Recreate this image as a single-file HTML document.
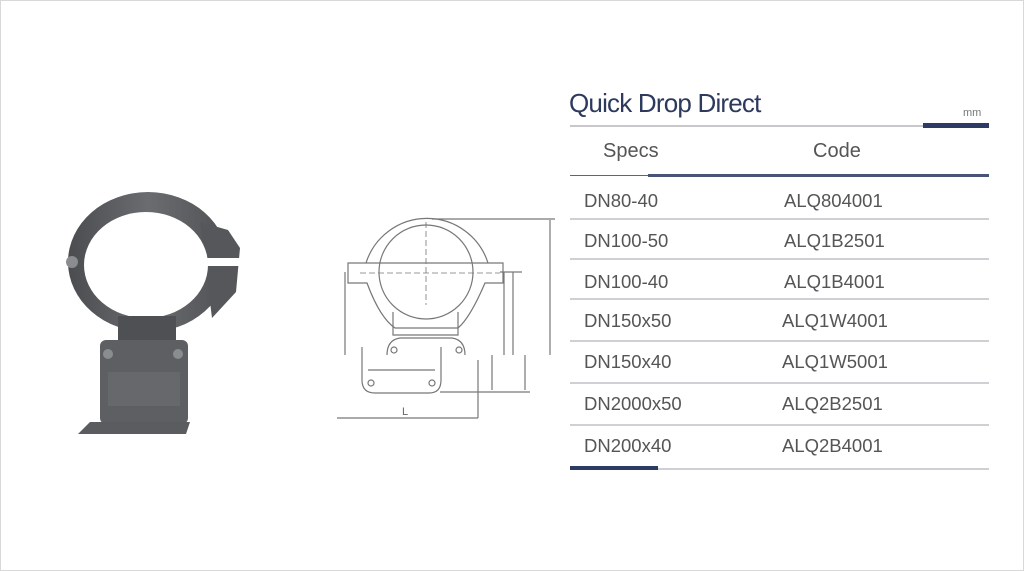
<!DOCTYPE html>
<html><head><meta charset="utf-8"><style>
html,body{margin:0;padding:0;background:#fff}
body{width:1024px;height:571px;position:relative;overflow:hidden;font-family:"Liberation Sans",sans-serif}
.frame{position:absolute;left:0;top:0;width:1022px;height:569px;border:1px solid #d8d8d8}
.t{position:absolute;color:#555;font-size:18.5px;line-height:20px;white-space:nowrap}
.ln{position:absolute;left:570px;width:419px;height:2px;background:#cfcfd4}
</style></head><body>
<div class="frame"></div>

<svg style="position:absolute;left:0;top:0" width="1024" height="571">
 <defs><linearGradient id="g" x1="0" x2="1"><stop offset="0" stop-color="#4a4c50"/><stop offset=".5" stop-color="#6a6c70"/><stop offset="1" stop-color="#505256"/></linearGradient></defs>
 <!-- photo -->
 <ellipse cx="148" cy="262" rx="80" ry="70" fill="url(#g)"/>
 <path d="M200 222 L228 230 L240 248 L236 292 L212 318 Z" fill="#55575b"/>
 <ellipse cx="146" cy="265" rx="62" ry="53" fill="#fff"/>
 <rect x="200" y="258" width="44" height="8" fill="#fff"/>
 <circle cx="72" cy="262" r="6" fill="#8a8c90"/>
 <rect x="118" y="316" width="58" height="26" fill="#4e5054"/>
 <rect x="100" y="340" width="88" height="84" rx="6" fill="#5d5f63"/>
 <rect x="108" y="372" width="72" height="34" fill="#66686c"/>
 <circle cx="108" cy="354" r="5" fill="#8a8c90"/><circle cx="178" cy="354" r="5" fill="#8a8c90"/>
 <path d="M78 434 L90 422 L190 422 L186 434 Z" fill="#5a5c60"/>
 <!-- drawing -->
 <g fill="none" stroke="#777" stroke-width="1.2">
  <path d="M366 263 A64 64 0 0 1 488 263"/>
  <path d="M348 263 L503 263 L503 283 L485 283 Q470 318 458 328 L395 328 Q380 318 367 283 L348 283 Z"/>
  <circle cx="426" cy="272" r="47"/>
  <path d="M393 312 L393 335 L458 335 L458 312"/>
  <path d="M387 355 Q387 340 400 338 L452 338 Q465 340 465 355"/>
  <circle cx="394" cy="350" r="3"/><circle cx="459" cy="350" r="3"/>
  <path d="M362 347 L362 380 Q362 393 375 393 L429 393 Q441 393 441 380 L441 347 M368 370 L435 370"/>
  <circle cx="371" cy="383" r="3"/><circle cx="432" cy="383" r="3"/>
  <path d="M345 272 L345 355 M504 272 L504 355 M513 272 L513 355 M550 220 L550 355"/>
  <path d="M426 222 L426 305 M360 273 L500 273" stroke-dasharray="6 3" stroke-width=".8"/>
  <path d="M432 219 L555 219 M500 272 L522 272 M492 355 L492 390 M525 355 L525 390 M440 392 L530 392 M478 360 L478 418 M337 418 L478 418"/>
 </g>
 <text x="402" y="415" font-size="11" fill="#666" font-family="Liberation Sans">L</text>
 <!-- table lines -->
 <rect x="570" y="125" width="353" height="2" fill="#c8c8cc"/>
 <rect x="923" y="123" width="66" height="5" fill="#2d3a64"/>
 <rect x="570" y="175" width="78" height="1" fill="#5a6484"/>
 <rect x="648" y="174" width="341" height="3" fill="#48537a"/>
 <rect x="570" y="466" width="88" height="4" fill="#2d3a64"/>
</svg>

<div class="t" style="left:569px;top:88px;font-size:26px;line-height:30px;color:#2d3a5e;letter-spacing:-0.8px">Quick Drop Direct</div>
<div class="t" style="left:963px;top:103px;font-size:11px;color:#777">mm</div>
<div class="t" style="left:603px;top:141px;font-size:20px">Specs</div>
<div class="t" style="left:813px;top:141px;font-size:20px">Code</div>

<div class="ln" style="top:218px"></div>
<div class="ln" style="top:258px"></div>
<div class="ln" style="top:298px"></div>
<div class="ln" style="top:340px"></div>
<div class="ln" style="top:382px"></div>
<div class="ln" style="top:424px"></div>
<div class="ln" style="top:468px;left:658px;width:331px"></div>

<div class="t" style="left:584px;top:191px">DN80-40</div><div class="t" style="left:784px;top:191px">ALQ804001</div>
<div class="t" style="left:584px;top:231px">DN100-50</div><div class="t" style="left:784px;top:231px">ALQ1B2501</div>
<div class="t" style="left:584px;top:272px">DN100-40</div><div class="t" style="left:784px;top:272px">ALQ1B4001</div>
<div class="t" style="left:584px;top:311px">DN150x50</div><div class="t" style="left:782px;top:311px">ALQ1W4001</div>
<div class="t" style="left:584px;top:352px">DN150x40</div><div class="t" style="left:782px;top:352px">ALQ1W5001</div>
<div class="t" style="left:584px;top:394px">DN2000x50</div><div class="t" style="left:782px;top:394px">ALQ2B2501</div>
<div class="t" style="left:584px;top:436px">DN200x40</div><div class="t" style="left:782px;top:436px">ALQ2B4001</div>
</body></html>
